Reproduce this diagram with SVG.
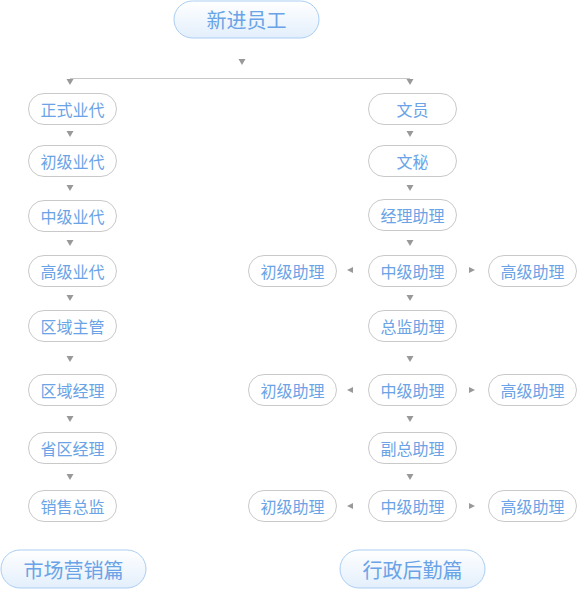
<svg xmlns="http://www.w3.org/2000/svg" width="577" height="616" viewBox="0 0 577 616">
<style>
.n rect{fill:#fff;stroke:#c9c9c9;stroke-width:1}
.n text{font-family:"Noto Sans CJK SC","Noto Sans",sans-serif;font-size:16px;fill:#6aa3e6;text-anchor:middle;dominant-baseline:central}
.b rect{fill:url(#g);stroke:#a9cdf2;stroke-width:1}
.b text{font-family:"Noto Sans CJK SC","Noto Sans",sans-serif;font-size:20px;fill:#6aa3e6;text-anchor:middle;dominant-baseline:central}
.a{fill:#999}
</style>
<defs>
<linearGradient id="g" x1="0" y1="0" x2="0" y2="1">
<stop offset="0" stop-color="#ffffff"/>
<stop offset="1" stop-color="#e3effc"/>
</linearGradient>
<path id="ad" d="M-3.5,-3 L3.5,-3 L0,3 Z"/>
<path id="al" d="M3,-3 L3,3 L-3,0 Z"/>
<path id="ar" d="M-3,-3 L-3,3 L3,0 Z"/>
</defs>
<g id="connectors">
<line x1="70" y1="78.5" x2="410" y2="78.5" stroke="#c8c8c8" stroke-width="1"/>
<use href="#ad" class="a" x="242" y="62"/>
<use href="#ad" class="a" x="70" y="82"/>
<use href="#ad" class="a" x="410" y="82"/>
<use href="#ad" class="a" x="70" y="134"/>
<use href="#ad" class="a" x="70" y="188"/>
<use href="#ad" class="a" x="70" y="243"/>
<use href="#ad" class="a" x="70" y="298"/>
<use href="#ad" class="a" x="70" y="359"/>
<use href="#ad" class="a" x="70" y="419"/>
<use href="#ad" class="a" x="70" y="477"/>
<use href="#ad" class="a" x="410" y="134"/>
<use href="#ad" class="a" x="410" y="188"/>
<use href="#ad" class="a" x="410" y="243"/>
<use href="#ad" class="a" x="410" y="298"/>
<use href="#ad" class="a" x="410" y="359"/>
<use href="#ad" class="a" x="410" y="419"/>
<use href="#ad" class="a" x="410" y="477"/>
<use href="#al" class="a" x="350" y="270"/>
<use href="#ar" class="a" x="472" y="270"/>
<use href="#al" class="a" x="350" y="390"/>
<use href="#ar" class="a" x="472" y="390"/>
<use href="#al" class="a" x="350" y="506"/>
<use href="#ar" class="a" x="472" y="506"/>
</g>
<g id="n-top" class="b"><rect x="174" y="1" width="145" height="37" rx="18.5"/><text x="246.5" y="19">新进员工</text></g>
<g id="n-l1" class="n"><rect x="28.5" y="93.5" width="88" height="31" rx="15.5"/><text x="72.5" y="108.5">正式业代</text></g>
<g id="n-l2" class="n"><rect x="28.5" y="145.5" width="88" height="31" rx="15.5"/><text x="72.5" y="160.5">初级业代</text></g>
<g id="n-l3" class="n"><rect x="28.5" y="200.5" width="88" height="31" rx="15.5"/><text x="72.5" y="215.5">中级业代</text></g>
<g id="n-l4" class="n"><rect x="28.5" y="255.5" width="88" height="31" rx="15.5"/><text x="72.5" y="270.5">高级业代</text></g>
<g id="n-l5" class="n"><rect x="28.5" y="310.5" width="88" height="31" rx="15.5"/><text x="72.5" y="325.5">区域主管</text></g>
<g id="n-l6" class="n"><rect x="28.5" y="374.5" width="88" height="31" rx="15.5"/><text x="72.5" y="389.5">区域经理</text></g>
<g id="n-l7" class="n"><rect x="28.5" y="432.5" width="88" height="31" rx="15.5"/><text x="72.5" y="447.5">省区经理</text></g>
<g id="n-l8" class="n"><rect x="28.5" y="490.5" width="88" height="31" rx="15.5"/><text x="72.5" y="505.5">销售总监</text></g>
<g id="n-r1" class="n"><rect x="368.5" y="93.5" width="88" height="31" rx="15.5"/><text x="412.5" y="108.5">文员</text></g>
<g id="n-r2" class="n"><rect x="368.5" y="145.5" width="88" height="31" rx="15.5"/><text x="412.5" y="160.5">文秘</text></g>
<g id="n-r3" class="n"><rect x="368.5" y="199.5" width="88" height="31" rx="15.5"/><text x="412.5" y="214.5">经理助理</text></g>
<g id="n-r4" class="n"><rect x="368.5" y="255.5" width="88" height="31" rx="15.5"/><text x="412.5" y="270.5">中级助理</text></g>
<g id="n-r4l" class="n"><rect x="248.5" y="255.5" width="88" height="31" rx="15.5"/><text x="292.5" y="270.5">初级助理</text></g>
<g id="n-r4r" class="n"><rect x="488.5" y="255.5" width="88" height="31" rx="15.5"/><text x="532.5" y="270.5">高级助理</text></g>
<g id="n-r5" class="n"><rect x="368.5" y="310.5" width="88" height="31" rx="15.5"/><text x="412.5" y="325.5">总监助理</text></g>
<g id="n-r6" class="n"><rect x="368.5" y="374.5" width="88" height="31" rx="15.5"/><text x="412.5" y="389.5">中级助理</text></g>
<g id="n-r6l" class="n"><rect x="248.5" y="374.5" width="88" height="31" rx="15.5"/><text x="292.5" y="389.5">初级助理</text></g>
<g id="n-r6r" class="n"><rect x="488.5" y="374.5" width="88" height="31" rx="15.5"/><text x="532.5" y="389.5">高级助理</text></g>
<g id="n-r7" class="n"><rect x="368.5" y="432.5" width="88" height="31" rx="15.5"/><text x="412.5" y="447.5">副总助理</text></g>
<g id="n-r8" class="n"><rect x="368.5" y="490.5" width="88" height="31" rx="15.5"/><text x="412.5" y="505.5">中级助理</text></g>
<g id="n-r8l" class="n"><rect x="248.5" y="490.5" width="88" height="31" rx="15.5"/><text x="292.5" y="505.5">初级助理</text></g>
<g id="n-r8r" class="n"><rect x="488.5" y="490.5" width="88" height="31" rx="15.5"/><text x="532.5" y="505.5">高级助理</text></g>
<g id="n-mkt" class="b"><rect x="1" y="550" width="145" height="38" rx="19"/><text x="73.5" y="569">市场营销篇</text></g>
<g id="n-adm" class="b"><rect x="340" y="550" width="145" height="38" rx="19"/><text x="412.5" y="569">行政后勤篇</text></g>
</svg>
